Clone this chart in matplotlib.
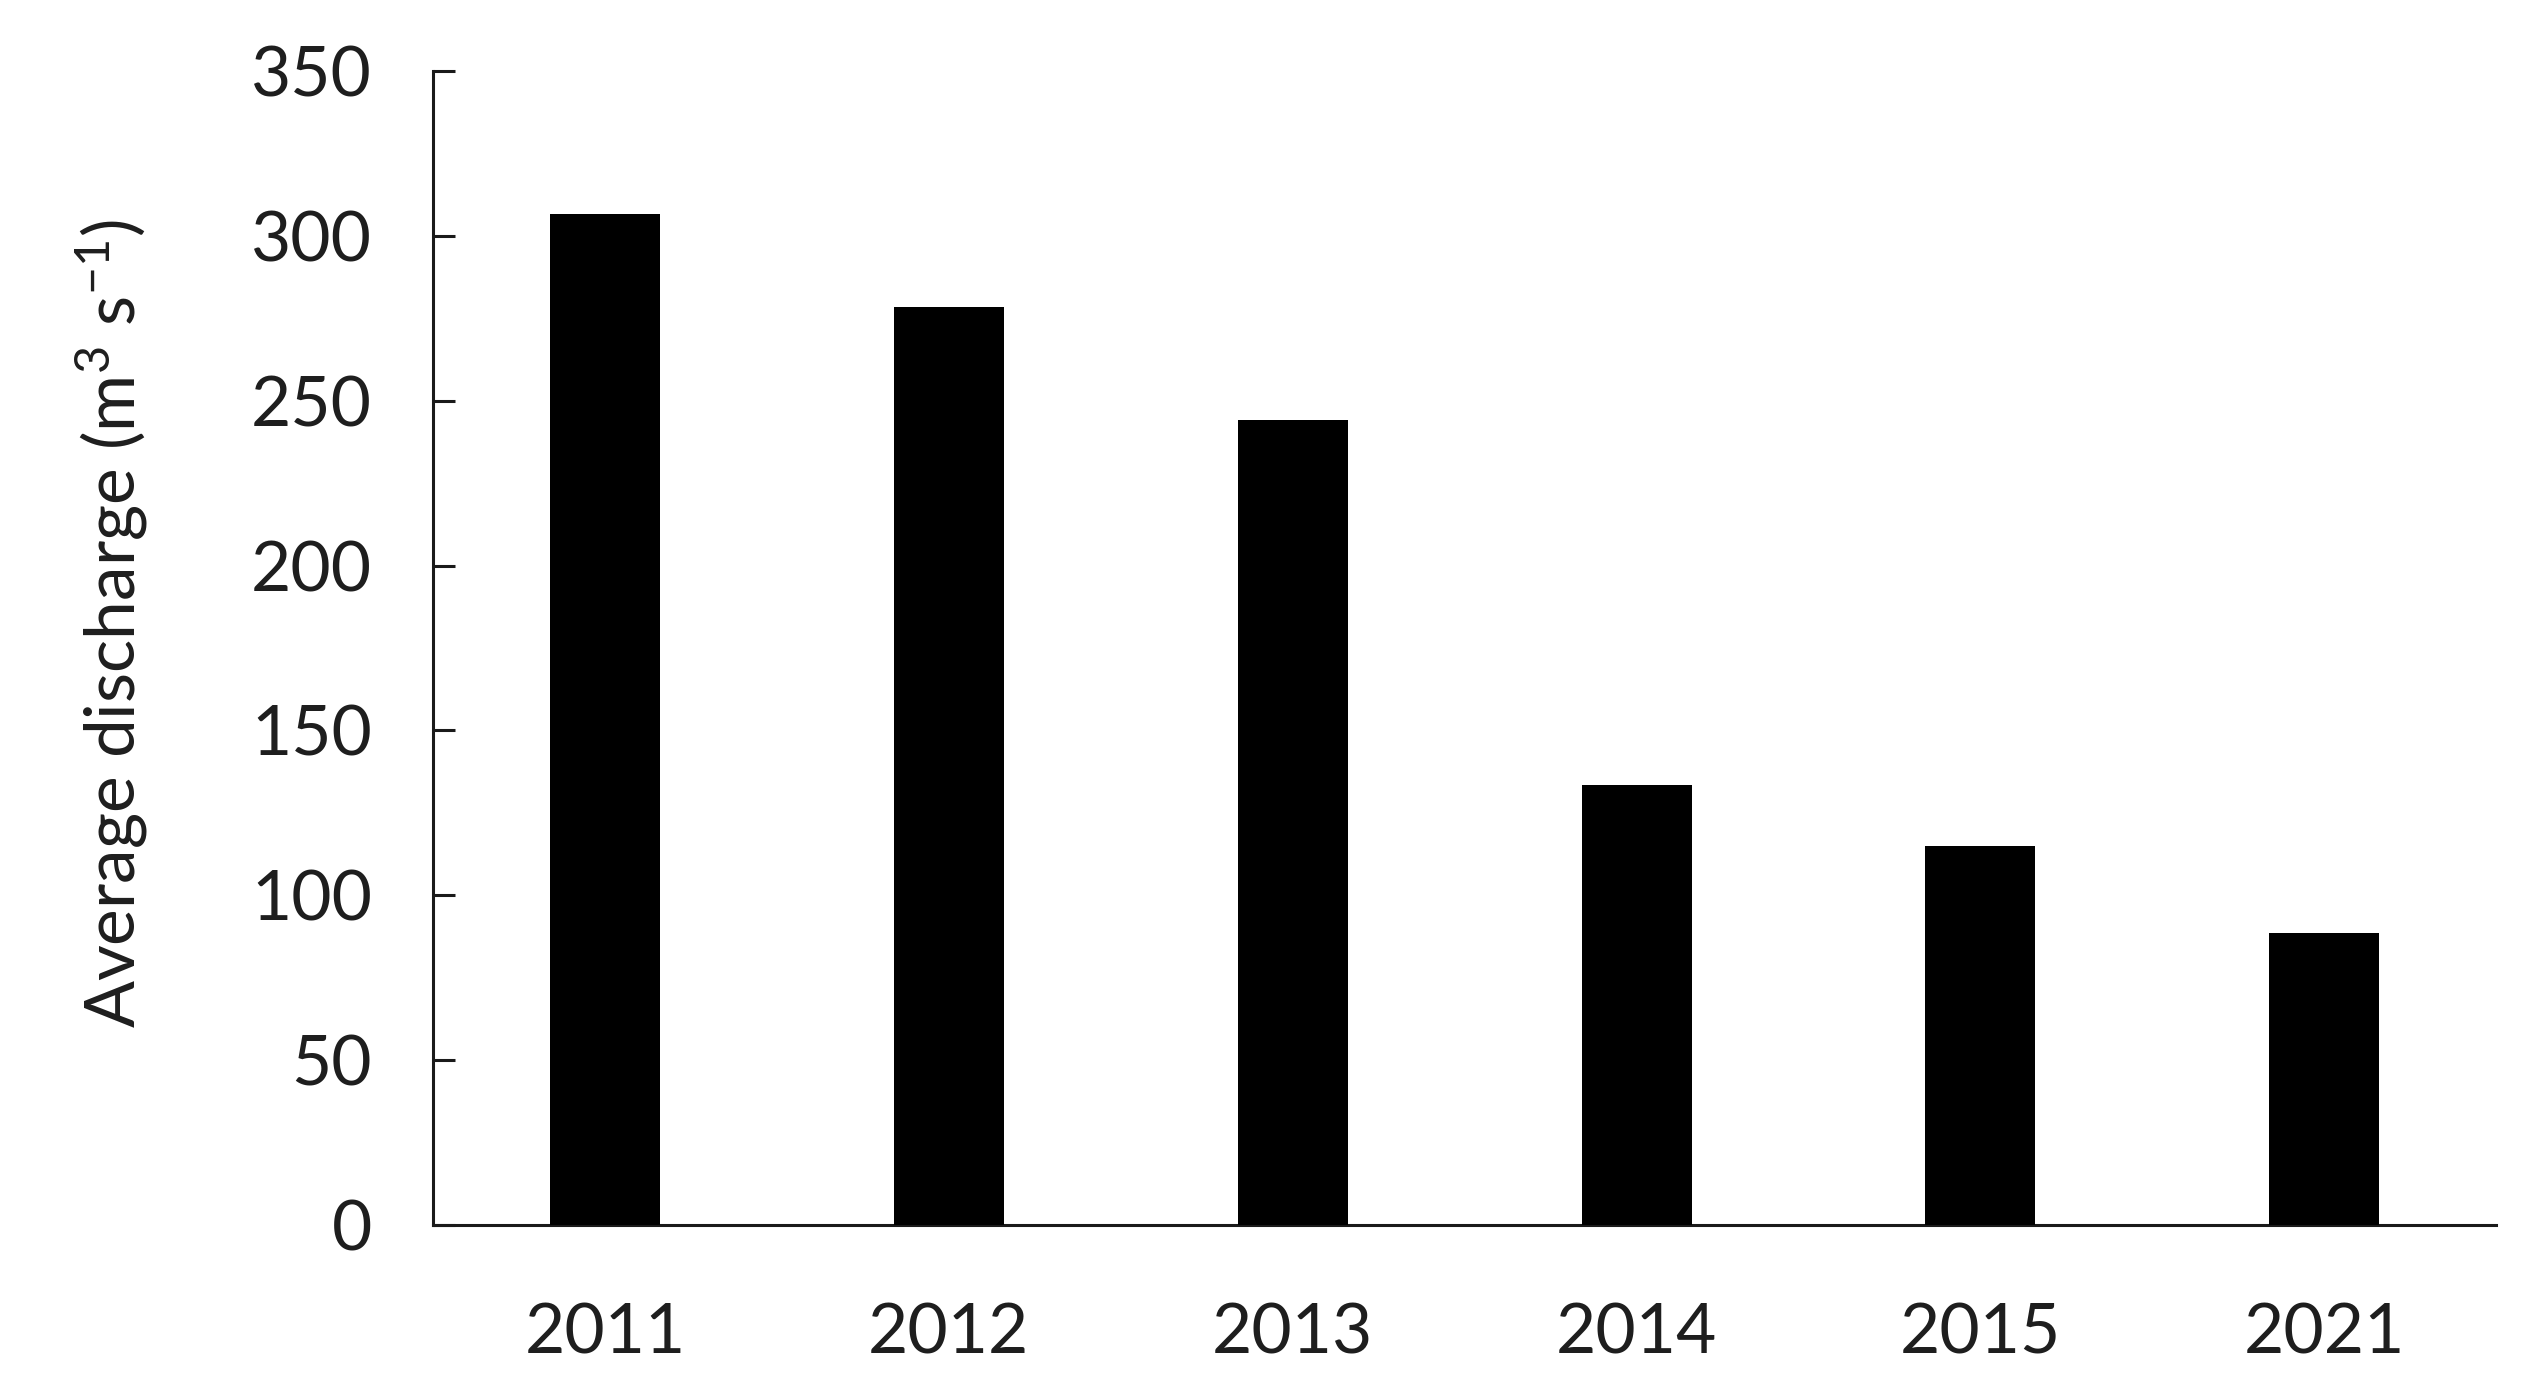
"""
Average discharge per year, bar chart.
"""

import matplotlib
matplotlib.use("Agg")
import matplotlib.pyplot as plt

years = ["2011", "2012", "2013", "2014", "2015", "2021"]
discharge = [306.5, 278.5, 244.0, 133.5, 115.0, 88.5]
y_ticks = [0, 50, 100, 150, 200, 250, 300, 350]

plt.rcParams["font.family"] = ["Lato", "DejaVu Sans"]
plt.rcParams["mathtext.fontset"] = "custom"
plt.rcParams["mathtext.rm"] = "Lato"
plt.rcParams["mathtext.it"] = "Lato"
plt.rcParams["mathtext.default"] = "regular"

text_color = "#1e1e1e"
axis_color = "#1a1a1a"

fig = plt.figure(figsize=(25.41, 13.81), dpi=100)
ax = fig.add_axes([0.1704, 0.113, 0.812, 0.8356])

x = range(len(years))
ax.bar(x, discharge, width=0.32, color="black", zorder=3)

ax.set_xlim(-0.5, len(years) - 0.5)
ax.set_ylim(0, 350)
ax.set_yticks(y_ticks)
ax.set_xticks(list(x))
ax.set_xticklabels(years)

ax.spines["top"].set_visible(False)
ax.spines["right"].set_visible(False)
for side in ("left", "bottom"):
    ax.spines[side].set_linewidth(2.2)
    ax.spines[side].set_color(axis_color)

ax.tick_params(axis="y", direction="in", length=16, width=2.2, color=axis_color,
               labelsize=50, pad=44, labelcolor=text_color)
ax.tick_params(axis="x", length=0, labelsize=50, pad=56, labelcolor=text_color)

ax.set_ylabel("Average discharge (m$^3$ s$^{\u22121}$)", fontsize=50,
              color=text_color)
ax.yaxis.set_label_coords(-0.137, 0.521)

fig.savefig("out.png", dpi=100)
